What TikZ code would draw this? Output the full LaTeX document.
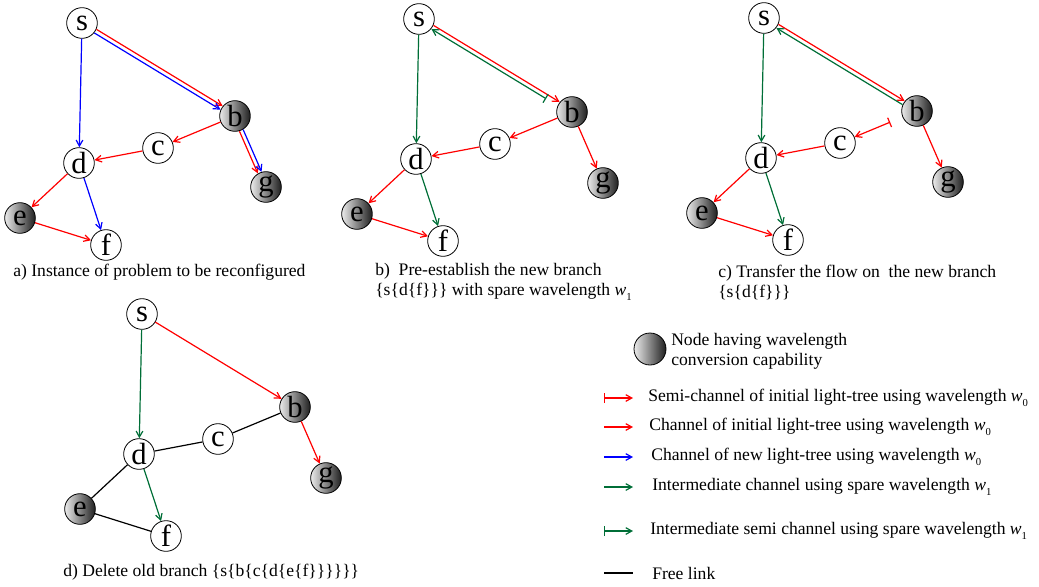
\documentclass[tikz,border=0pt]{standalone}
\usepackage{fontspec}
\setmainfont{Liberation Serif}
\usetikzlibrary{arrows.meta,positioning}
\definecolor{wgreen}{RGB}{0,110,55}
\newcommand{\wav}[1]{\textit{w}\raisebox{-0.55ex}{\fontsize{8}{8}\selectfont #1}}
% the seven nodes of the network, reused in every panel
\newcommand{\netnodes}{%
  \node[stnode] (s) at (82,23) {s};
  \node[convnode] (b) at (235,116) {b};
  \node[stnode] (c) at (158,148) {c};
  \node[stnode] (d) at (79,163) {d};
  \node[convnode] (g) at (266,187) {g};
  \node[convnode] (e) at (20,218) {e};
  \node[stnode] (f) at (106,245) {f};
}

\begin{document}
\begin{tikzpicture}[x=0.75pt,y=-0.75pt,>={Straight Barb[length=4.5pt,width=5pt]},
  stnode/.style={circle,draw,line width=0.6pt,fill=white,minimum size=23pt,inner sep=0pt,font=\fontsize{23}{23}\selectfont},
  convnode/.style={stnode,left color=black!8,right color=black!88},
  lnk/.style={line width=0.9pt},
  redch/.style={lnk,red,->},
  redsemi/.style={lnk,red,{Bar[width=7.5pt]}->},
  bluech/.style={lnk,blue,->},
  greench/.style={lnk,wgreen,->},
  greensemi/.style={lnk,wgreen,{Bar[width=7.5pt]}->},
  freelk/.style={lnk,black},
  sbtop/.style={transform canvas={shift={(0.8pt,1.35pt)}}},
  sbbot/.style={transform canvas={shift={(-0.8pt,-1.35pt)}}},
  bgeast/.style={transform canvas={shift={(1.4pt,0.6pt)}}},
  bgwest/.style={transform canvas={shift={(-1.4pt,-0.6pt)}}},
  txt/.style={inner sep=0pt,anchor=west,align=left,font=\fontsize{13.2}{15}\selectfont}]
\useasboundingbox (0,0) rectangle (1039,586);

% a) initial tree
\begin{scope}[name prefix=a-]
\netnodes
\draw[redch,sbtop] (s) -- (b);
\draw[bluech,sbbot] (s) -- (b);
\draw[bluech] (s) -- (d);
\draw[redch] (b) -- (c);
\draw[redch] (c) -- (d);
\draw[redch,bgwest] (b) -- (g);
\draw[bluech,bgeast] (b) -- (g);
\draw[redch] (d) -- (e);
\draw[bluech] (d) -- (f);
\draw[redch] (e) -- (f);
\end{scope}

% b) pre-establish
\begin{scope}[shift={(337,-4)},name prefix=b-]
\netnodes
\draw[redch,sbtop] (s) -- (b);
\draw[greensemi,sbbot,shorten <=10pt] (b) -- (s);
\draw[greench] (s) -- (d);
\draw[redch] (b) -- (c);
\draw[redch] (c) -- (d);
\draw[redch] (b) -- (g);
\draw[redch] (d) -- (e);
\draw[greench] (d) -- (f);
\draw[redch] (e) -- (f);
\end{scope}

% c) transfer
\begin{scope}[shift={(682,-5)},name prefix=c-]
\netnodes
\draw[redch,sbtop] (s) -- (b);
\draw[greench,sbbot] (b) -- (s);
\draw[greench] (s) -- (d);
\draw[redsemi,shorten <=10pt] (b) -- (c);
\draw[redch] (c) -- (d);
\draw[redch] (b) -- (g);
\draw[redch] (d) -- (e);
\draw[greench] (d) -- (f);
\draw[redch] (e) -- (f);
\end{scope}

% d) delete
\begin{scope}[shift={(60,291)},name prefix=d-]
\netnodes
\draw[redch] (s) -- (b);
\draw[greench] (s) -- (d);
\draw[freelk] (b) -- (c);
\draw[freelk] (c) -- (d);
\draw[freelk] (d) -- (e);
\draw[freelk] (e) -- (f);
\draw[redch] (b) -- (g);
\draw[greench] (d) -- (f);
\end{scope}

\node[txt] (capa) at (13,272) {a) Instance of problem to be reconfigured};
\node[txt] (capb) at (375,282) {b)\ \ Pre-establish the new branch\\\{s\{d\{f\}\}\} with spare wavelength \wav{1}};
\node[txt] (capc) at (718,282) {c) Transfer the flow on\ \ the new branch\\\{s\{d\{f\}\}\}};
\node[txt] (capd) at (63,572) {d) Delete old branch \{s\{b\{c\{d\{e\{f\}\}\}\}\}\}};

% legend
\node[convnode,minimum size=24pt] (conv) at (650,349) {};
\node[txt] (convtxt) at (671,351) {Node having wavelength\\conversion capability};
\foreach \i/\y/\x/\sty/\lbl in {
  1/398/648/redsemi/{Semi-channel of initial light-tree using wavelength \wav{0}},
  2/427/649/redch/{Channel of initial light-tree using wavelength \wav{0}},
  3/457/651/bluech/{Channel of new light-tree using wavelength \wav{0}},
  4/487/652/greench/{Intermediate channel using spare wavelength \wav{1}},
  5/531/650/greensemi/{Intermediate semi channel using spare wavelength \wav{1}},
  6/573/652/freelk/{Free link}} {
  \coordinate (k\i) at (604,\y);
  \draw[\sty] (k\i) -- ++(29,0);
  \node[txt] (t\i) at (\x,\y) {\lbl};
}
\end{tikzpicture}
\end{document}
